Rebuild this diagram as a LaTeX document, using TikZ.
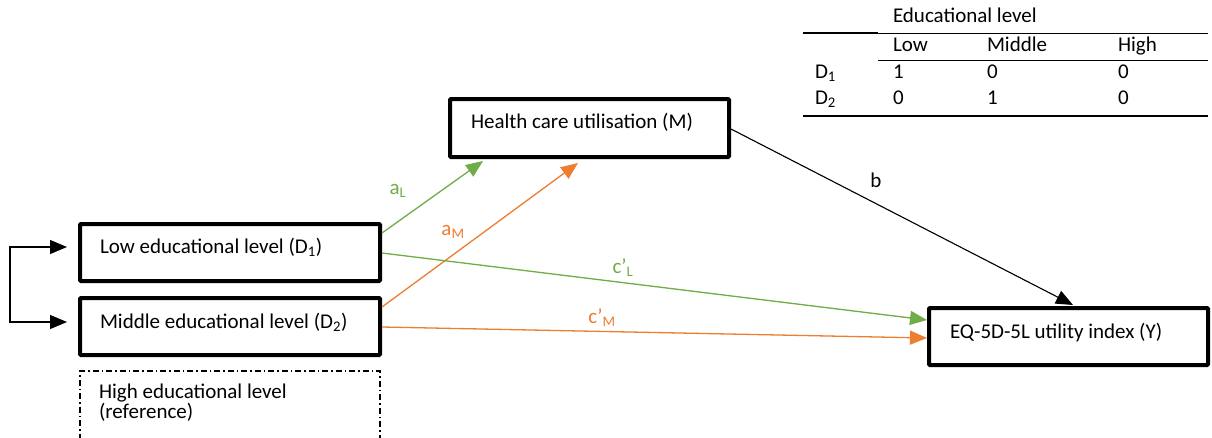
\documentclass[tikz,border=0pt]{standalone}
\usepackage{fontspec}
\setmainfont{Carlito}
\usetikzlibrary{arrows.meta,calc}
\definecolor{egreen}{HTML}{70AD47}
\definecolor{eorange}{HTML}{ED7D31}
\begin{document}
\begin{tikzpicture}[x=1pt,y=-1pt,
  every node/.style={font=\fontsize{21}{25}\selectfont, inner sep=0pt, outer sep=0pt},
  varbox/.style={draw, line width=4pt, rounded corners=1pt, minimum height=57pt},
  reftxt/.style={anchor=west, text height=14pt, text depth=4pt},
  tip/.style={-{Triangle[length=17pt,width=14pt]}},
  gline/.style={tip, draw=egreen, fill=egreen, line width=1.3pt},
  oline/.style={tip, draw=eorange, fill=eorange, line width=1.3pt},
  bline/.style={tip, draw=black, fill=black, line width=1.1pt},
  trule/.style={line width=2pt},
  tthin/.style={line width=1pt}]
\useasboundingbox (0,0) rectangle (1212,437);

% boxes
\node[varbox, minimum width=300pt] (low) at (230,252.5) {};
\node[varbox, minimum width=300pt] (mid) at (230,326.5) {};
\node[varbox, minimum width=279pt, minimum height=58pt] (health) at (589.5,128) {};
\node[varbox, minimum width=279pt] (ybox) at (1068.5,336.5) {};
\begin{scope}
\clip (0,0) rectangle (1212,437);
\node[draw, line width=1.4pt, minimum width=300pt, minimum height=80pt,
  dash pattern=on 6pt off 3pt on 1.5pt off 3pt] (high) at (230,411) {};
\end{scope}

% box texts
\node[reftxt] (lowt) at (100,248) {Low educational level (D\textsubscript{1})};
\node[reftxt] (midt) at (100,323) {Middle educational level (D\textsubscript{2})};
\node[reftxt] (hight1) at (99,393) {High educational level};
\node[reftxt] (hight2) at (99,413) {(reference)};
\node[reftxt] (healtht) at (471,123) {Health care utilisation (M)};
\node[reftxt] (ybt) at (950,333) {EQ-5D-5L utility index (Y)};

% left connector
\coordinate (lc) at (10,285);
\draw[line width=1.1pt, {Triangle[length=17pt,width=14pt]}-{Triangle[length=17pt,width=14pt]}]
  ($(low.west)+(-13,-5.5)$) -| (lc) |- ($(mid.west)+(-13,-4.5)$);

% arrows
\draw[gline] ($(low.north east)+(2,9)$) -- ($(health.south west)+(33,4)$);
\draw[oline] ($(mid.north east)+(2,9)$) -- ($(health.south west)+(128,6)$);
\draw[gline] ($(low.north east)+(2,29)$) -- ($(ybox.north west)+(-2,12)$);
\draw[oline] ($(mid.north east)+(2,29)$) -- ($(ybox.north west)+(-2,30)$);
\draw[bline] ($(health.north east)+(2,30)$) -- ($(ybox.north west)+(144,-3)$);

% arrow labels
\node[text=egreen] (al) at (398,191) {a\textsubscript{L}};
\node[text=eorange] (am) at (453,232) {a\textsubscript{M}};
\node[text=egreen] (cl) at (623,268) {c’\textsubscript{L}};
\node[text=eorange] (cm) at (602,318) {c’\textsubscript{M}};
\node (bl) at (876,180) {b};

% table
\node[reftxt] (th) at (893,17) {Educational level};
\coordinate (r1a) at (803,33);
\coordinate (r1b) at (878,33);
\coordinate (r1c) at (1208,33);
\coordinate (r2a) at (878,60);
\coordinate (r2b) at (1208,60);
\coordinate (r3a) at (803,116);
\coordinate (r3b) at (1208,116);
\draw[trule] (r1a) -- (r1b);
\draw[tthin] (r1b) -- (r1c);
\draw[tthin] (r2a) -- (r2b);
\draw[trule] (r3a) -- (r3b);
\node[reftxt] (hlow) at (893,46) {Low};
\node[reftxt] (hmid) at (987,46) {Middle};
\node[reftxt] (hhigh) at (1118,46) {High};
\node[reftxt] (d1) at (815,73) {D\textsubscript{1}};
\node[reftxt] (d1a) at (893,73) {1};
\node[reftxt] (d1b) at (987,73) {0};
\node[reftxt] (d1c) at (1118,73) {0};
\node[reftxt] (d2) at (815,99) {D\textsubscript{2}};
\node[reftxt] (d2a) at (893,99) {0};
\node[reftxt] (d2b) at (987,99) {1};
\node[reftxt] (d2c) at (1118,99) {0};
\end{tikzpicture}
\end{document}
